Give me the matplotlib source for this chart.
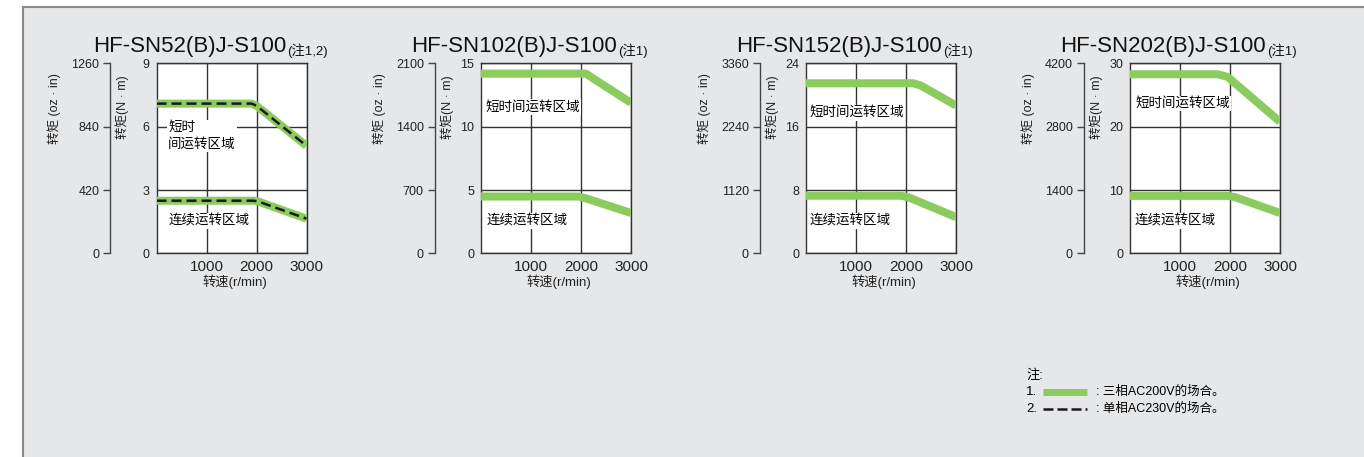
import matplotlib
matplotlib.use("Agg")
import matplotlib.pyplot as plt
from matplotlib.lines import Line2D
from matplotlib.patches import Rectangle

plt.rcParams['font.family'] = ['Liberation Sans', 'Noto Sans CJK SC']

W, H = 1364, 457

# --- data ---
models = ["HF-SN52(B)J-S100", "HF-SN102(B)J-S100", "HF-SN152(B)J-S100", "HF-SN202(B)J-S100"]
notes = ["(注1,2)", "(注1)", "(注1)", "(注1)"]
nm_max = [9, 15, 24, 30]
ozin_max = [1260, 2100, 3360, 4200]
speed_ticks = [1000, 2000, 3000]

# three-phase AC200V (green band)
short_speed = [[0, 1900, 2000, 3000], [0, 2100, 2250, 3000], [0, 2150, 2300, 3000], [0, 1750, 1950, 3000]]
short_torque = [[7.1, 7.1, 7.0, 5.1], [14.2, 14.2, 13.8, 11.9], [21.5, 21.5, 21.2, 18.7], [28.3, 28.3, 27.9, 20.8]]
cont_speed = [[0, 1950, 2050, 3000], [0, 1950, 2100, 3000], [0, 1900, 2050, 3000], [0, 1950, 2100, 3000]]
cont_torque = [[2.5, 2.5, 2.45, 1.65], [4.5, 4.5, 4.35, 3.2], [7.3, 7.3, 7.1, 4.6], [9.1, 9.1, 8.9, 6.4]]

# single-phase AC230V (dashed), only for HF-SN52
sp_short_speed = [0, 1900, 2000, 3000]
sp_short_torque = [7.1, 7.1, 7.0, 5.1]
sp_cont_speed = [0, 1950, 2050, 3000]
sp_cont_torque = [2.5, 2.5, 2.45, 1.65]

short_label = ["短时\n间运转区域", "短时间运转区域", "短时间运转区域", "短时间运转区域"]
cont_label = "连续运转区域"

GREEN = '#8ccb5e'
GRID = '#333333'

# layout (pixels of the reference)
plot_left = [156.5, 481, 806, 1130]
plot_top, plot_w, plot_h = 63.5, 150, 190
short_label_pos = [(234, 0.62), (80, 0.77), (67, 0.74), (100, 0.79)]
cont_label_pos = [(234, 0.17), (114, 0.17), (80, 0.17), (100, 0.17)]


def px(x, y):
    return x / W, 1 - y / H


fig = plt.figure(figsize=(W / 100, H / 100), dpi=100, facecolor='white')

# grey panel behind everything
fig.add_artist(Rectangle(px(23, H), 1 - 23 / W, 1 - 7 / H, transform=fig.transFigure,
                         facecolor='#e6e7e9', edgecolor='none', zorder=-10))
fig.add_artist(Line2D([23 / W, 23 / W], [0, 1 - 7 / H], transform=fig.transFigure,
                      color='#8a8a8a', lw=1.5, zorder=-9))
fig.add_artist(Line2D([23 / W, 1], [1 - 7 / H, 1 - 7 / H], transform=fig.transFigure,
                      color='#8a8a8a', lw=1.5, zorder=-9))

for i in range(4):
    l, b = px(plot_left[i], plot_top + plot_h)
    ax = fig.add_axes([l, b, plot_w / W, plot_h / H])
    ax.set_facecolor('white')
    top = nm_max[i]
    ax.set_xlim(0, 3000)
    ax.set_ylim(0, top)
    ax.set_xticks(speed_ticks)
    ax.set_yticks([0, top / 3, 2 * top / 3, top])
    ax.set_yticklabels([str(int(round(v))) for v in [0, top / 3, 2 * top / 3, top]])
    ax.tick_params(axis='x', length=0, pad=5, labelsize=11, colors='#222222')
    ax.tick_params(axis='y', length=0, pad=5, labelsize=9, colors='#222222')
    ax.grid(True, color=GRID, lw=1)
    ax.set_axisbelow(True)
    for s in ax.spines.values():
        s.set_color(GRID)
        s.set_linewidth(1)

    ax.plot(short_speed[i], short_torque[i], color=GREEN, lw=5.8,
            solid_capstyle='butt', solid_joinstyle='round', zorder=3)
    ax.plot(cont_speed[i], cont_torque[i], color=GREEN, lw=5.8,
            solid_capstyle='butt', solid_joinstyle='round', zorder=3)
    if i == 0:
        ax.plot(sp_short_speed, sp_short_torque, color='#1a1a1a', lw=1.8,
                dashes=(4, 2), zorder=4)
        ax.plot(sp_cont_speed, sp_cont_torque, color='#1a1a1a', lw=1.8,
                dashes=(4, 2), zorder=4)

    bb = dict(facecolor='white', edgecolor='none', pad=1)
    sx, sy = short_label_pos[i]
    ax.text(sx, sy * top, short_label[i], fontsize=9.7, ha='left', va='center',
            linespacing=1.4, bbox=bb, zorder=2)
    cx, cy = cont_label_pos[i]
    ax.text(cx, cy * top, cont_label, fontsize=9.7, ha='left', va='center',
            bbox=bb, zorder=2)

    # outer torque axis in oz.in
    k = ozin_max[i] / nm_max[i]
    sec = ax.secondary_yaxis(-0.307, functions=(lambda v, k=k: v * k, lambda v, k=k: v / k))
    sec.set_yticks([0, ozin_max[i] / 3, 2 * ozin_max[i] / 3, ozin_max[i]])
    sec.set_yticklabels([str(int(round(v))) for v in
                         [0, ozin_max[i] / 3, 2 * ozin_max[i] / 3, ozin_max[i]]])
    sec.tick_params(length=5, width=1, color='#444444', labelsize=9, pad=3,
                    labelcolor='#222222')
    sec.spines['left'].set_color('#444444')
    sec.spines['left'].set_linewidth(1)

    ax.text(-102 / plot_w, 0.95, "转矩 (oz · in)", transform=ax.transAxes, rotation=90,
            ha='center', va='top', fontsize=9, color='#222222')
    ax.text(-34 / plot_w, 0.94, "转矩(N · m)", transform=ax.transAxes, rotation=90,
            ha='center', va='top', fontsize=9, color='#222222')
    ax.text(0.52, -28.5 / plot_h, "转速(r/min)", transform=ax.transAxes,
            ha='center', va='center', fontsize=9.5, color='#222222')

    t = ax.text(0.22, 1 + 11.5 / plot_h, models[i], transform=ax.transAxes,
                ha='center', va='baseline', fontsize=16, color='#111111')
    ax.annotate(notes[i], xy=(1, 0), xycoords=t, xytext=(1, -1), textcoords='offset points',
                ha='left', va='bottom', fontsize=9.5, color='#111111')

# legend notes
fig.text(*px(1026, 375), "注:", fontsize=9.5, va='center', ha='left')
fig.text(*px(1026, 392), "1.", fontsize=9.5, va='center', ha='left')
fig.text(*px(1026, 409), "2.", fontsize=9.5, va='center', ha='left')
x0, _ = px(1043, 0)
x1, _ = px(1087, 0)
_, y1 = px(0, 392)
_, y2 = px(0, 409)
fig.add_artist(Line2D([x0, x1], [y1, y1], transform=fig.transFigure, color=GREEN,
                      lw=5, solid_capstyle='butt'))
fig.add_artist(Line2D([x0, x1], [y2, y2], transform=fig.transFigure, color='#1a1a1a',
                      lw=1.8, dashes=(4, 1.6)))
fig.text(*px(1096, 392), ": 三相AC200V的场合。", fontsize=9, va='center', ha='left')
fig.text(*px(1096, 409), ": 单相AC230V的场合。", fontsize=9, va='center', ha='left')

fig.savefig('out.png', dpi=100, facecolor='white')
